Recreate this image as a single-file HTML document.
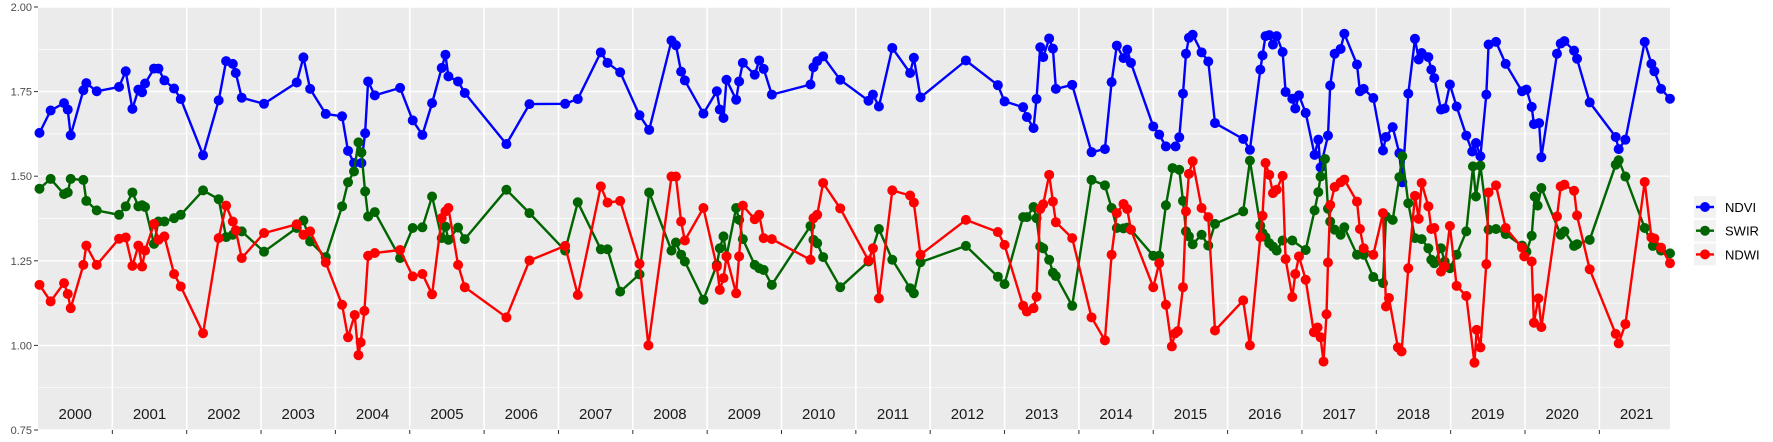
<!DOCTYPE html>
<html><head><meta charset="utf-8"><style>
html,body{margin:0;padding:0;background:#fff;}
svg{display:block;font-family:"Liberation Sans",Arial,sans-serif;}
</style></head><body>
<svg id="chart" width="1773" height="442" viewBox="0 0 1773 442" xmlns="http://www.w3.org/2000/svg">
<rect x="38" y="7" width="1632" height="423" fill="#EBEBEB"/>
<g id="grid"></g>
<g id="yaxis"></g>
<g id="xaxis"></g>
<g id="series"></g>
<g id="legend"></g>
</svg>
<script>
// decimal years since 2000
const ndviT=[0.02,0.17,0.35,0.40,0.44,0.61,0.65,0.79,1.09,1.18,1.27,1.35,1.40,1.44,1.56,1.62,1.70,1.83,1.92,2.22,2.43,2.53,2.62,2.66,2.74,3.04,3.48,3.57,3.66,3.87,4.09,4.17,4.25,4.35,4.40,4.44,4.53,4.87,5.04,5.17,5.30,5.43,5.48,5.52,5.65,5.74,6.30,6.61,7.09,7.26,7.57,7.66,7.83,8.09,8.22,8.52,8.58,8.65,8.70,8.95,9.13,9.17,9.22,9.26,9.39,9.43,9.48,9.64,9.70,9.76,9.87,10.39,10.43,10.48,10.56,10.79,11.17,11.23,11.31,11.49,11.73,11.78,11.87,12.48,12.91,13.00,13.25,13.30,13.39,13.43,13.48,13.52,13.60,13.65,13.69,13.91,14.17,14.35,14.44,14.51,14.60,14.65,14.70,15.00,15.08,15.17,15.30,15.35,15.40,15.44,15.48,15.53,15.65,15.74,15.83,16.21,16.30,16.44,16.47,16.51,16.56,16.61,16.66,16.74,16.78,16.87,16.91,16.96,17.05,17.17,17.22,17.25,17.35,17.38,17.44,17.52,17.57,17.74,17.78,17.83,17.96,18.09,18.13,18.22,18.31,18.35,18.43,18.52,18.57,18.61,18.70,18.74,18.78,18.87,18.92,18.99,19.08,19.21,19.29,19.34,19.40,19.48,19.51,19.61,19.74,19.96,20.02,20.09,20.12,20.19,20.22,20.43,20.48,20.53,20.66,20.70,20.87,21.22,21.26,21.35,21.61,21.70,21.74,21.83,21.95];
const ndviV=[1.628,1.694,1.716,1.697,1.621,1.754,1.775,1.751,1.764,1.810,1.699,1.756,1.748,1.774,1.818,1.818,1.783,1.759,1.728,1.562,1.724,1.840,1.832,1.805,1.732,1.714,1.777,1.851,1.758,1.684,1.677,1.575,1.539,1.539,1.627,1.780,1.739,1.761,1.665,1.622,1.716,1.820,1.859,1.795,1.780,1.746,1.595,1.713,1.714,1.728,1.866,1.835,1.807,1.680,1.637,1.901,1.887,1.809,1.783,1.685,1.751,1.697,1.672,1.785,1.726,1.780,1.835,1.800,1.842,1.817,1.741,1.771,1.822,1.840,1.854,1.785,1.723,1.741,1.706,1.879,1.805,1.850,1.733,1.842,1.769,1.721,1.704,1.675,1.642,1.728,1.881,1.852,1.907,1.877,1.758,1.770,1.571,1.580,1.778,1.886,1.849,1.874,1.835,1.647,1.623,1.588,1.588,1.615,1.744,1.862,1.909,1.918,1.866,1.839,1.657,1.610,1.578,1.815,1.857,1.914,1.917,1.889,1.914,1.867,1.749,1.729,1.700,1.739,1.687,1.563,1.608,1.526,1.620,1.768,1.862,1.876,1.921,1.830,1.751,1.758,1.731,1.576,1.616,1.645,1.568,1.482,1.744,1.906,1.845,1.864,1.852,1.815,1.790,1.697,1.700,1.771,1.706,1.620,1.573,1.598,1.559,1.741,1.889,1.897,1.832,1.751,1.756,1.705,1.654,1.657,1.556,1.862,1.892,1.899,1.871,1.847,1.718,1.616,1.580,1.608,1.897,1.832,1.810,1.758,1.729];
const swirT=[0.02,0.17,0.35,0.40,0.44,0.61,0.65,0.79,1.09,1.18,1.27,1.35,1.40,1.44,1.56,1.62,1.70,1.83,1.92,2.22,2.43,2.53,2.62,2.74,3.04,3.48,3.57,3.66,3.87,4.09,4.17,4.25,4.31,4.35,4.40,4.44,4.53,4.87,5.04,5.17,5.30,5.43,5.48,5.52,5.65,5.74,6.30,6.61,7.09,7.26,7.57,7.66,7.83,8.09,8.22,8.52,8.58,8.65,8.70,8.95,9.13,9.17,9.22,9.26,9.39,9.43,9.48,9.64,9.70,9.76,9.87,10.39,10.43,10.48,10.56,10.79,11.17,11.31,11.49,11.73,11.78,11.87,12.48,12.91,13.00,13.25,13.30,13.39,13.43,13.48,13.52,13.60,13.65,13.69,13.91,14.17,14.35,14.44,14.51,14.60,14.65,14.70,15.00,15.08,15.17,15.26,15.35,15.40,15.44,15.48,15.53,15.65,15.74,15.83,16.21,16.30,16.44,16.47,16.51,16.56,16.61,16.66,16.74,16.87,17.05,17.17,17.22,17.25,17.31,17.35,17.38,17.44,17.52,17.57,17.74,17.83,17.96,18.09,18.13,18.22,18.31,18.35,18.43,18.52,18.61,18.70,18.74,18.78,18.87,18.92,18.99,19.08,19.21,19.30,19.34,19.40,19.51,19.61,19.74,19.96,20.02,20.09,20.13,20.17,20.22,20.48,20.53,20.66,20.70,20.87,21.22,21.26,21.35,21.61,21.72,21.83,21.95];
const swirV=[1.463,1.492,1.447,1.452,1.492,1.489,1.427,1.399,1.386,1.411,1.452,1.411,1.414,1.409,1.300,1.366,1.366,1.376,1.386,1.458,1.432,1.320,1.327,1.337,1.277,1.347,1.369,1.307,1.261,1.411,1.482,1.514,1.600,1.570,1.455,1.381,1.394,1.258,1.347,1.349,1.440,1.317,1.351,1.312,1.348,1.314,1.460,1.391,1.280,1.423,1.284,1.284,1.159,1.210,1.452,1.280,1.304,1.268,1.248,1.135,1.238,1.287,1.322,1.263,1.406,1.371,1.314,1.238,1.228,1.223,1.179,1.353,1.312,1.302,1.261,1.172,1.248,1.344,1.253,1.169,1.154,1.246,1.294,1.203,1.181,1.379,1.379,1.409,1.376,1.292,1.287,1.253,1.215,1.205,1.117,1.489,1.473,1.406,1.347,1.346,1.348,1.342,1.265,1.265,1.414,1.524,1.519,1.427,1.337,1.322,1.299,1.327,1.295,1.359,1.396,1.546,1.354,1.332,1.320,1.302,1.292,1.280,1.310,1.310,1.282,1.399,1.453,1.499,1.551,1.404,1.366,1.342,1.327,1.349,1.268,1.268,1.202,1.184,1.381,1.371,1.497,1.559,1.420,1.317,1.314,1.287,1.253,1.243,1.287,1.248,1.228,1.268,1.337,1.529,1.440,1.531,1.342,1.344,1.329,1.295,1.277,1.324,1.440,1.413,1.465,1.327,1.337,1.294,1.299,1.312,1.534,1.547,1.499,1.347,1.294,1.280,1.272];
const ndwiT=[0.02,0.17,0.35,0.40,0.44,0.61,0.65,0.79,1.09,1.18,1.27,1.35,1.40,1.44,1.56,1.62,1.70,1.83,1.92,2.22,2.43,2.53,2.62,2.66,2.74,3.04,3.48,3.57,3.66,3.87,4.09,4.17,4.26,4.31,4.34,4.39,4.44,4.53,4.87,5.04,5.17,5.30,5.43,5.48,5.52,5.65,5.74,6.30,6.61,7.09,7.26,7.57,7.66,7.83,8.09,8.21,8.52,8.58,8.65,8.70,8.95,9.13,9.17,9.22,9.26,9.39,9.43,9.48,9.64,9.70,9.76,9.87,10.39,10.43,10.48,10.56,10.79,11.17,11.23,11.31,11.49,11.73,11.78,11.87,12.48,12.91,13.00,13.25,13.30,13.39,13.43,13.48,13.52,13.60,13.65,13.69,13.91,14.17,14.35,14.44,14.51,14.60,14.65,14.70,15.00,15.08,15.17,15.25,15.29,15.33,15.40,15.44,15.48,15.53,15.65,15.74,15.83,16.21,16.30,16.44,16.47,16.51,16.56,16.61,16.66,16.74,16.78,16.87,16.91,16.96,17.05,17.16,17.21,17.25,17.29,17.33,17.35,17.38,17.44,17.52,17.57,17.74,17.78,17.83,17.96,18.09,18.13,18.17,18.29,18.34,18.43,18.52,18.57,18.61,18.70,18.74,18.78,18.87,18.92,18.99,19.08,19.21,19.32,19.35,19.40,19.48,19.51,19.61,19.74,19.96,19.99,20.09,20.12,20.18,20.22,20.43,20.48,20.53,20.66,20.70,20.87,21.22,21.26,21.35,21.61,21.70,21.74,21.83,21.95];
const ndwiV=[1.179,1.130,1.184,1.152,1.110,1.238,1.295,1.238,1.315,1.319,1.235,1.295,1.233,1.280,1.359,1.312,1.322,1.211,1.174,1.036,1.317,1.413,1.366,1.340,1.258,1.332,1.358,1.327,1.337,1.245,1.120,1.024,1.090,0.971,1.009,1.102,1.265,1.273,1.282,1.204,1.211,1.151,1.376,1.396,1.406,1.238,1.172,1.083,1.251,1.294,1.149,1.470,1.422,1.427,1.241,1.000,1.499,1.499,1.366,1.310,1.406,1.233,1.164,1.199,1.263,1.154,1.263,1.413,1.373,1.386,1.317,1.314,1.253,1.376,1.386,1.480,1.405,1.251,1.287,1.139,1.458,1.443,1.422,1.268,1.371,1.335,1.297,1.117,1.100,1.110,1.144,1.403,1.417,1.504,1.425,1.364,1.317,1.083,1.015,1.268,1.391,1.418,1.403,1.342,1.172,1.243,1.120,0.997,1.035,1.042,1.172,1.396,1.507,1.544,1.406,1.379,1.044,1.133,1.000,1.320,1.383,1.539,1.504,1.450,1.460,1.501,1.255,1.143,1.211,1.263,1.194,1.039,1.053,1.024,0.952,1.092,1.245,1.415,1.468,1.482,1.490,1.425,1.344,1.287,1.268,1.391,1.115,1.140,0.994,0.982,1.228,1.442,1.374,1.480,1.411,1.344,1.347,1.218,1.233,1.353,1.176,1.146,0.949,1.046,0.994,1.240,1.452,1.473,1.347,1.289,1.263,1.248,1.067,1.139,1.054,1.381,1.470,1.475,1.457,1.384,1.225,1.034,1.006,1.063,1.483,1.319,1.316,1.289,1.243];
const yTicks=[0.75,1.00,1.25,1.50,1.75,2.00];
const yTickLabels=["0.75","1.00","1.25","1.50","1.75","2.00"];
const years=[2000,2001,2002,2003,2004,2005,2006,2007,2008,2009,2010,2011,2012,2013,2014,2015,2016,2017,2018,2019,2020,2021];

const NS="http://www.w3.org/2000/svg";
const PL=38,PT=7,PR=1670,PB=430,YW=74.35;
function xs(t){return PL+t*YW;}
function ys(v){return PT+(2-v)/1.25*(PB-PT);}
function mk(tag,attrs,parent){const e=document.createElementNS(NS,tag);for(const k in attrs)e.setAttribute(k,attrs[k]);parent.appendChild(e);return e;}
const grid=document.getElementById('grid'),yax=document.getElementById('yaxis'),xax=document.getElementById('xaxis'),ser=document.getElementById('series'),leg=document.getElementById('legend');

for(let i=0;i<yTicks.length;i++){
  const y=ys(yTicks[i]);
  const g=mk('line',{x1:PL,x2:PR,y1:y,y2:y,stroke:'#fff','stroke-width':1.4},grid);
  
  
  if(i<yTicks.length-1){const ym=ys(yTicks[i]+0.125);
    const m=mk('line',{x1:PL,x2:PR,y1:ym,y2:ym,stroke:'#fff','stroke-width':0.7},grid);
    
    }
  const tk=mk('line',{x1:PL-4,x2:PL,y1:y,y2:y,stroke:'#333','stroke-width':1},yax);
  
  
  const tx=mk('text',{x:PL-6,y:y+4,'text-anchor':'end','font-size':11,fill:'#4d4d4d'},yax);
  tx.textContent=yTickLabels[i];
  
  
}
for(let i=0;i<years.length;i++){
  const x0=xs(years[i]-2000);
  if(i>0){
    const g=mk('line',{x1:x0,x2:x0,y1:PT,y2:PB,stroke:'#fff','stroke-width':1.6},grid);
    
    
    const tk=mk('line',{x1:x0,x2:x0,y1:PB,y2:PB+4,stroke:'#333','stroke-width':1},xax);
    
    
  }
  const tx=mk('text',{x:x0+YW/2,y:419,'text-anchor':'middle','font-size':15,fill:'#1a1a1a'},xax);
  tx.textContent=String(years[i]);
  
  
}
function drawSeries(T,V,color,name){
  const g=mk('g',{},ser);
  
  
  const pts=T.map((t,i)=>xs(t).toFixed(1)+','+ys(V[i]).toFixed(1)).join(' ');
  const pl=mk('polyline',{points:pts,fill:'none',stroke:color,'stroke-width':2.4,'stroke-linejoin':'round'},g);
  
  
  for(let i=0;i<T.length;i++){
    const c=mk('circle',{cx:xs(T[i]),cy:ys(V[i]),r:5,fill:color},g);
    
    
  }
}
drawSeries(ndviT,ndviV,'#0000FF','ndvi');
drawSeries(swirT,swirV,'#006400','swir');
drawSeries(ndwiT,ndwiV,'#FF0000','ndwi');

const legNames=['NDVI','SWIR','NDWI'],legColors=['#0000FF','#006400','#FF0000'];
for(let i=0;i<3;i++){
  const cy=207+i*23.7;
  const g=mk('g',{},leg);
  
  
  mk('rect',{x:1694,y:cy-11,width:22,height:22,fill:'#F2F2F2'},g);
  mk('line',{x1:1696,x2:1714,y1:cy,y2:cy,stroke:legColors[i],'stroke-width':2.4},g);
  mk('circle',{cx:1705,cy:cy,r:5,fill:legColors[i]},g);
  const t=mk('text',{x:1725,y:cy+5,'font-size':13,fill:'#000'},g);
  t.textContent=legNames[i];
}
</script>
</body></html>
